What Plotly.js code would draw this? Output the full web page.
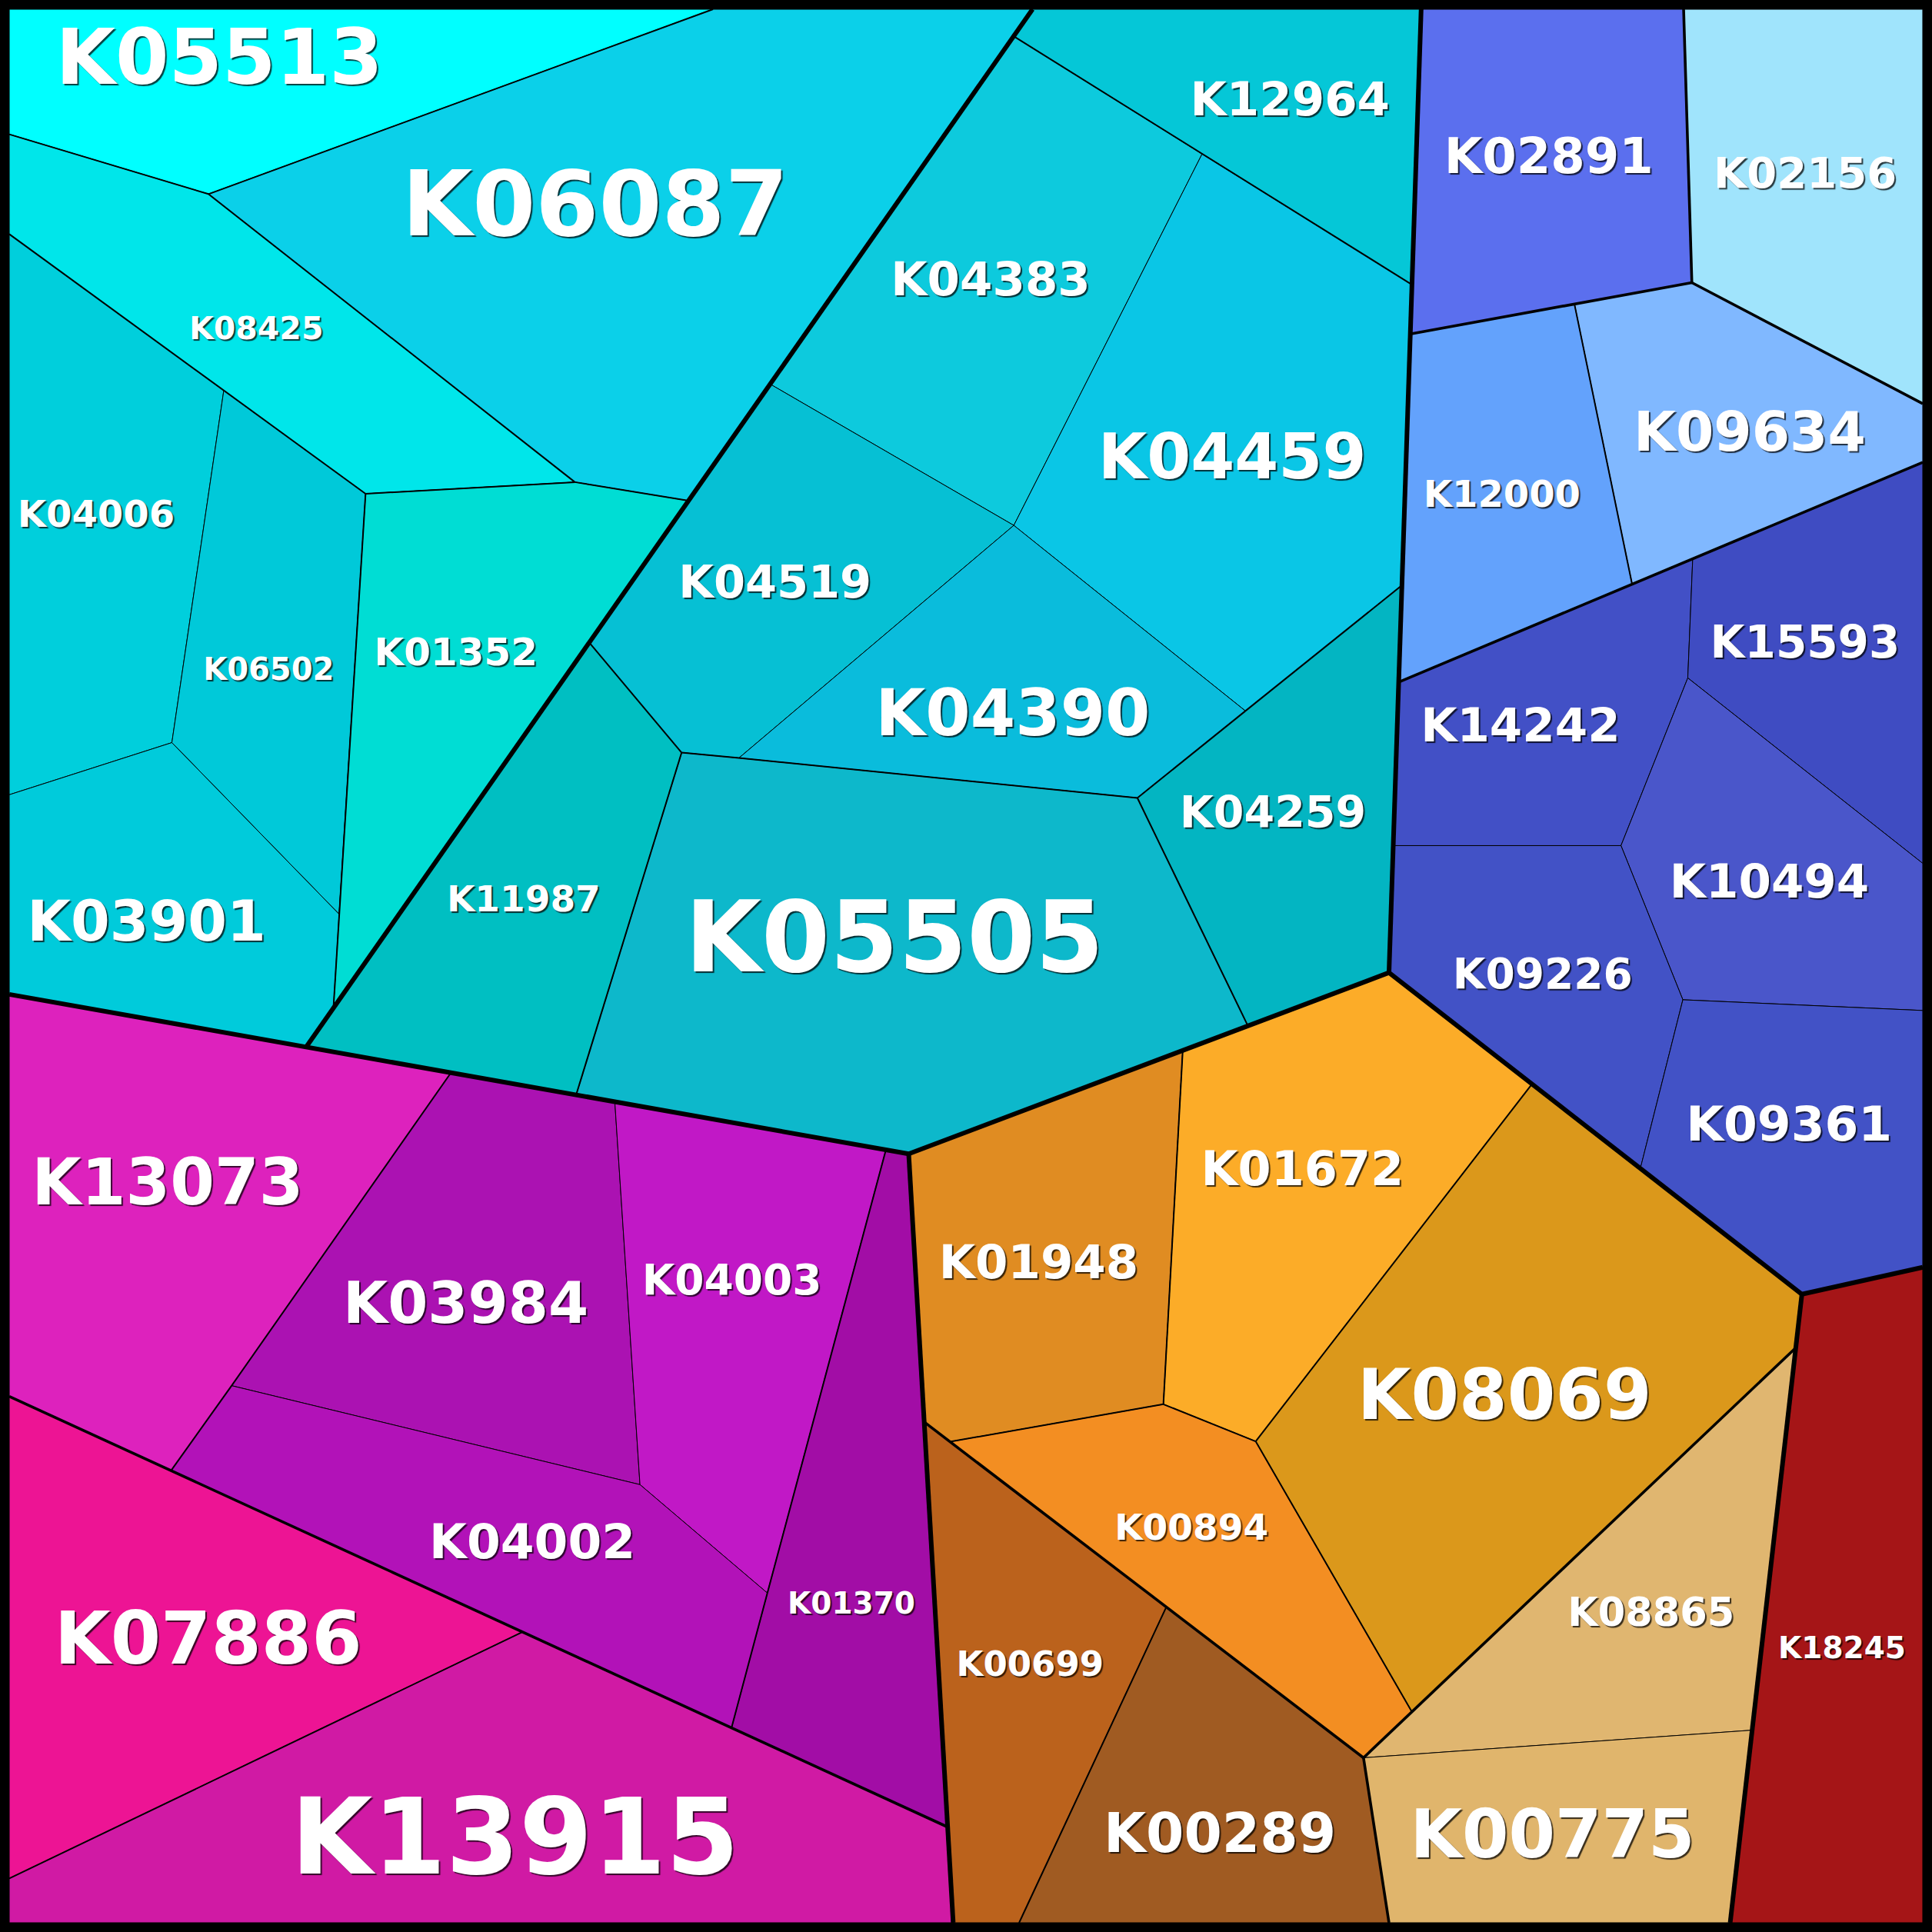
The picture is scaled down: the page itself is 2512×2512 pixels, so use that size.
<!DOCTYPE html>
<html><head><meta charset="utf-8">
<script src="https://cdn.plot.ly/plotly-3.0.1.min.js"></script>
<style>html,body{margin:0;padding:0;background:#000}#chart{width:2512px;height:2512px}</style>
</head><body><div id="chart"></div>
<script>
// Vertex table of the Voronoi treemap (in 1568-unit chart space)
const pointNames = ["TL","TR","BL","BR","A1","A2","A3","A4","A5","A6","A7","A8","A9","A10","A11","A12","B1","B2","B3","B4","C1",
  "E1","E2","E3","E4","E5","E6","E7","E8","E9","G1","G2","G3","G4","G5","G6",
  "H1","H2","H3","H4","H5","H6","H7","H8","H9","H10","H11","H12","H13","J1","J2","J3","J4","J5",
  "F1","K1","K2","K3","K4","K5","K7","K8","L1","L2","L3",
  "D1","D2","D3","D4","D5","N1","N2","N3","N4","N5","N6","N7","N8","M1","M2"];
const pointX = [7.5,1560.5,7.5,1560.5, 7.5,169.2,578.7,7.5,181.6,296.7,466.6,558.8,139.5,7.5,275.2,270.6,838,478.2,248.5,822.7,7.5,
  553.2,599.7,923.1,1012.8,1010.8,822.8,625.0,975.6,1145.9,1153.4,1144.6,1137.8,1135.2,1130.7,1127.3,
  1366.4,1373.1,1560.5,1277.8,1324.6,1560.5,1373.8,1369.8,1560.5,1315.6,1365.8,1560.5,1331.3,1462.4,1560.5,1457.4,1422.0,1404.2,
  959.9,944.2,771.0,750.1,946.5,1106.6,1127.3,827.1,1243.4,1019.1,1145.7,
  366,467.6,499,737.5,719,188,138.8,7.5,519.4,622.8,593.7,424.1,7.5,769.1,773.6];
const pointY = [7.5,7.5,1560.5,1560.5, 109,157.5,7.5,190,317,400.7,391.3,406.4,602.7,645,741.9,818,7.5,521.5,849.7,29.4,807,
  610.8,615.2,647.6,832.6,577.0,426.4,311.7,125.0,231,7.5,271,475,553.6,686.3,789.4,
  7.5,229.4,327.6,246.8,474.1,375.2,453.5,550.2,700.7,686.3,811.4,820.1,948.3,1050.4,1028.5,1093.9,1404.2,1560.5,
  852.6,1139.7,1170.1,1154.1,1304.4,1426.6,1560.5,1560.5,879.8,1169.8,1389.0,
  870.6,888.6,894.2,936.5,933.2,1124.6,1193.6,1133.3,1204.9,1292.9,1402.3,1324.5,1524.6,1482.8,1560.5];

const cellNames = ["K05513","K06087","K08425","K04006","K06502","K01352","K03901",
  "K12964","K04383","K04459","K04519","K04390","K04259","K05505","K11987",
  "K02891","K02156","K09634","K12000","K14242","K15593","K10494","K09226","K09361",
  "K13073","K03984","K04003","K01370","K04002","K07886","K13915",
  "K01948","K01672","K08069","K00894","K00699","K00289","K08865","K00775","K18245"];
const cellColors = ["#00ffff","#0bd0e9","#00e6ea","#00cfdc","#00c9d9","#00ddd4","#00cbdb",
  "#05c7d7","#0dcadd","#0ac6e6","#06c0d4","#0abcdc","#03b5c2","#0db8cb","#00bfc2",
  "#5b6fee","#a0e4fc","#80b8ff","#63a2fc","#4250c6","#3f4cc2","#4a56ca","#4252c6","#4252c6",
  "#dd22bd","#ab12b2","#c118c6","#a20da6","#b212b8","#ed1494","#d01aa4",
  "#e08c22","#fcac28","#db981b","#f38e22","#bb621c","#a05b22","#e0b670","#e0b56c","#a51517"];
const cellVertices = ["TL A3 A2 A1","A3 B1 A8 A7 A2","A1 A2 A7 A6 A5 A4","A4 A5 A9 A10","A5 A6 A11 A9","A6 A7 A8 A12 A11","A10 A9 A11 A12 B3 C1",
  "B1 G1 E9 E8 B4","B4 E8 E6 E7","E8 E9 G3 E5 E6","E7 E6 E2 E1 B2","E6 E5 E3 E2","G3 G6 E4 E3 E5","E1 E2 E3 E4 D4 D2","B2 E1 D2 B3",
  "G1 H1 H2 H4 G2","H1 TR H3 H2","H4 H2 H3 H6 H7 H5","G2 H4 H5 G4","G4 H5 H7 H8 H10 G5","H7 H6 H9 H8","H8 H9 H12 H11 H10","G5 H10 H11 H13 G6","H11 H12 J2 J1 H13",
  "C1 D1 N1 N2 N3","D1 D3 N4 N1","D3 D5 N5 N4","D5 D4 M1 N6 N5","N1 N4 N5 N6 N7 N2","N3 N2 N7 N8","N8 N7 N6 M1 M2 BL",
  "D4 F1 K1 K2 K3","F1 G6 L1 L2 K1","L1 J1 J3 L3 L2","K2 K1 L2 L3 K5 K4","K3 K4 K8 M2","K4 K5 K7 K8","L3 J3 J4 K5","K5 J4 J5 K7","J1 J2 BR J5"];
const labelX = [178,483,208,78,218,370,119, 1047,804,1000,629,822,1033,726,425, 1257,1465,1420,1219,1234,1465,1436,1252,1452, 136,378,594,691,432,169,418, 843,1057,1221,967,836,990,1340,1260,1495];
const labelY = [52.6,172.7,268.7,420.1,545.6,532.3,751.7, 84,230,375.3,475.8,583.5,662.7,768.4,732.1, 130.2,143.7,354.7,404.1,592,524.9,719,793.5,916.1, 964.4,1061.9,1041.7,1303.6,1255,1335.2,1499, 1028,952.1,1137.9,1242.1,1352.9,1491.7,1311.3,1493.7,1339.5];
const labelSize = [100,118,41,48,40,50,73, 61,61,82,59,84,57,128,47, 64,56,71,48,61,58,61,55,63, 83,75,55,39,63,94,137, 61,62,90,47,45,71,51,87,39];

// Borders by hierarchy level
const borders1 = ["B1 B3","C1 B3 D1 D2 D3 D5 D4","D4 K3 M1 M2","D4 F1 E4 G6","G1 E9 G2 G3 G4 G5 G6","G6 L1 H13 J1","J1 J3 J4 J5","J1 J2"];
const borders2 = ["K3 K2 K4 K5","J3 L3 K5","K5 K7","G2 H4 H2","H1 H2","H2 H3","G4 H5 H7 H6","N3 N2 N7 N6 M1"];
const borders3 = ["A1 A2","A2 A3","A2 A7","A4 A5 A6","A6 A7","A7 A8","A6 A11 A12",
  "B4 E8 E9","B2 E1","E1 D2","E1 E2 E3","E3 E4","E3 E5","E5 G3","H4 H5",
  "N7 N8","D1 N1 N2","D5 N5","N5 N6","F1 K1","K1 K2","K1 L2","L1 L2","L2 L3","K4 K8"];

const idx = {};
pointNames.forEach((n,i)=>{idx[n]=i;});
function xs(path){return path.split(" ").map(n=>pointX[idx[n]]);}
function ys(path){return path.split(" ").map(n=>pointY[idx[n]]);}

const traces = [];
cellNames.forEach((name,i)=>{
  const p = cellVertices[i] + " " + cellVertices[i].split(" ")[0];
  traces.push({type:"scatter",mode:"lines",x:xs(p),y:ys(p),fill:"toself",fillcolor:cellColors[i],
    line:{color:"#000",width:1},hoverinfo:"skip",showlegend:false});
});
function addBorders(list,w){
  list.forEach(p=>traces.push({type:"scatter",mode:"lines",x:xs(p),y:ys(p),line:{color:"#000",width:w},hoverinfo:"skip",showlegend:false}));
}
addBorders(borders3,2);
addBorders(borders2,3.6);
addBorders(borders1,6);

traces.push({type:"scatter",mode:"text",x:labelX,y:labelY,text:cellNames,textposition:"middle center",
  textfont:{family:"DejaVu Sans",weight:"bold",color:"#ffffff",size:labelSize,shadow:"2px 2px 1px rgba(0,0,0,0.75)"},
  hoverinfo:"skip",showlegend:false,cliponaxis:false});

const layout = {width:2512,height:2512,margin:{l:0,r:0,t:0,b:0,pad:0},
  paper_bgcolor:"#000",plot_bgcolor:"#000",showlegend:false,hovermode:false,
  xaxis:{range:[0,1568],visible:false,fixedrange:true,showgrid:false,zeroline:false},
  yaxis:{range:[1568,0],visible:false,fixedrange:true,showgrid:false,zeroline:false}};
Plotly.newPlot("chart",traces,layout,{staticPlot:true,displayModeBar:false});
</script></body></html>
